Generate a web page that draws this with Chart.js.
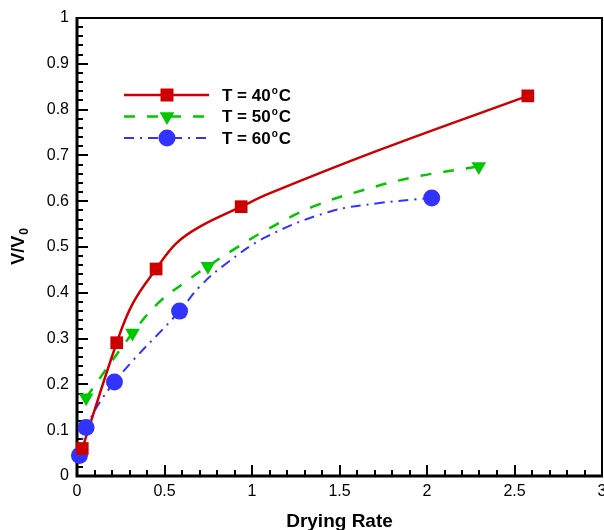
<!DOCTYPE html>
<html>
<head>
<meta charset="utf-8">
<script src="https://cdn.jsdelivr.net/npm/chart.js@4.4.1/dist/chart.umd.min.js"></script>
<style>
  body { margin: 0; background: #fff; }
  #wrap { width: 604px; height: 530px; }
</style>
</head>
<body>
<div id="wrap"><canvas id="chart" width="604" height="530"></canvas></div>
<script>
const x40 = [0.03, 0.227, 0.452, 0.938, 2.576];
const y40 = [0.06, 0.291, 0.452, 0.588, 0.830];
const x50 = [0.052, 0.317, 0.748, 2.296];
const y50 = [0.171, 0.312, 0.458, 0.676];
const x60 = [0.014, 0.052, 0.214, 0.586, 2.027];
const y60 = [0.045, 0.106, 0.205, 0.360, 0.607];

// fitted curves
const fitX40 = [0.03, 0.227, 0.319, 0.452, 0.567, 0.7, 0.938, 1.1, 1.729, 2.576];
const fitY40 = [0.06, 0.291, 0.377, 0.452, 0.508, 0.544, 0.588, 0.617, 0.712, 0.830];
const fitX50 = [0.052, 0.317, 0.471, 0.624, 0.748, 0.91, 1.081, 1.348, 1.633, 1.919, 2.296];
const fitY50 = [0.171, 0.312, 0.380, 0.425, 0.458, 0.498, 0.537, 0.588, 0.624, 0.652, 0.676];
const fitX60 = [0.014, 0.052, 0.214, 0.586, 0.7, 0.853, 1.081, 1.443, 1.729, 1.938, 2.027];
const fitY60 = [0.045, 0.106, 0.205, 0.360, 0.413, 0.464, 0.522, 0.577, 0.596, 0.604, 0.607];

const labels = ['T = 40', 'T = 50', 'T = 60'];

const RED = '#cc0000', GREEN = '#00c800', BLUE = '#3333ff';
const FONT = "'Liberation Sans', Arial, sans-serif";
const DASH50 = [11, 12], DASH60 = [10, 6, 2, 6];

const pts = (xs, ys) => xs.map((x, i) => ({ x: x, y: ys[i] }));
const fmt = v => String(+(+v).toFixed(2));

// box, inward ticks, axis titles and legend
const decor = {
  id: 'decor',
  beforeDatasetsDraw(chart) {
    const ctx = chart.ctx, a = chart.chartArea;
    const xs = chart.scales.x, ys = chart.scales.y;
    ctx.save();
    ctx.strokeStyle = '#000';
    // top and right
    ctx.lineWidth = 2;
    ctx.beginPath();
    ctx.moveTo(a.left, a.top); ctx.lineTo(a.right, a.top); ctx.lineTo(a.right, a.bottom);
    ctx.stroke();
    // ticks
    ctx.lineWidth = 2;
    for (let i = 0; i <= 50; i++) {
      const v = i / 50, py = Math.round(ys.getPixelForValue(v));
      const len = i % 5 === 0 ? 11 : 6;
      ctx.beginPath(); ctx.moveTo(a.left, py); ctx.lineTo(a.left + len, py); ctx.stroke();
    }
    for (let i = 0; i <= 30; i++) {
      const v = i / 10, px = Math.round(xs.getPixelForValue(v));
      const len = i % 5 === 0 ? 11 : 6;
      ctx.beginPath(); ctx.moveTo(px, a.bottom); ctx.lineTo(px, a.bottom - len); ctx.stroke();
    }
    // left and bottom axes
    ctx.lineWidth = 3;
    ctx.beginPath();
    ctx.moveTo(a.left, a.top - 1); ctx.lineTo(a.left, a.bottom); ctx.lineTo(a.right + 1, a.bottom);
    ctx.stroke();
    ctx.restore();
  },
  afterDraw(chart) {
    const ctx = chart.ctx, a = chart.chartArea;
    ctx.save();
    ctx.fillStyle = '#000';
    // x title
    ctx.font = 'bold 19px ' + FONT;
    ctx.textAlign = 'center';
    ctx.textBaseline = 'alphabetic';
    ctx.fillText('Drying Rate', (a.left + a.right) / 2, 527);
    // y title with subscript
    ctx.translate(24, (a.top + a.bottom) / 2);
    ctx.rotate(-Math.PI / 2);
    ctx.font = 'bold 18px ' + FONT;
    const w1 = ctx.measureText('V/V').width;
    ctx.font = 'bold 12px ' + FONT;
    const w2 = ctx.measureText('0').width;
    const x0 = -(w1 + w2) / 2;
    ctx.textAlign = 'left';
    ctx.font = 'bold 18px ' + FONT;
    ctx.fillText('V/V', x0, 0);
    ctx.font = 'bold 12px ' + FONT;
    ctx.fillText('0', x0 + w1 + 1, 4);
    ctx.restore();

    // legend
    const rows = [
      { c: RED, dash: [], w: 2.5, shape: 'rect' },
      { c: GREEN, dash: DASH50, w: 2.5, shape: 'tri' },
      { c: BLUE, dash: DASH60, w: 2, shape: 'circle' }
    ];
    ctx.save();
    rows.forEach((r, i) => {
      const y = 95 + i * 21.5;
      ctx.strokeStyle = r.c; ctx.fillStyle = r.c;
      ctx.lineWidth = r.w;
      ctx.setLineDash(r.dash);
      ctx.beginPath(); ctx.moveTo(124, y); ctx.lineTo(209, y); ctx.stroke();
      ctx.setLineDash([]);
      const cx = 167;
      ctx.beginPath();
      if (r.shape === 'rect') ctx.rect(cx - 6.5, y - 6.5, 13, 13);
      else if (r.shape === 'tri') {
        const rr = 8.5;
        ctx.moveTo(cx, y + rr);
        ctx.lineTo(cx - rr * 0.866, y - rr / 2);
        ctx.lineTo(cx + rr * 0.866, y - rr / 2);
        ctx.closePath();
      } else ctx.arc(cx, y, 8.5, 0, Math.PI * 2);
      ctx.fill();
      // text
      ctx.fillStyle = '#000';
      ctx.font = 'bold 17px ' + FONT;
      ctx.textBaseline = 'middle';
      ctx.textAlign = 'left';
      const t = labels[i];
      ctx.fillText(t, 222, y + 1);
      const tw = ctx.measureText(t).width;
      ctx.font = 'bold 10px ' + FONT;
      ctx.fillText('o', 222 + tw + 1, y - 4);
      const ow = ctx.measureText('o').width;
      ctx.font = 'bold 17px ' + FONT;
      ctx.fillText('C', 222 + tw + ow + 2, y + 1);
    });
    ctx.restore();
  }
};

const marker = (d, c, style, r, extra) => Object.assign({
  data: d, showLine: false, backgroundColor: c, borderColor: c, borderWidth: 0,
  pointStyle: style, pointRadius: r, pointHoverRadius: r, clip: false
}, extra || {});

const curve = (d, c, w, dash) => ({
  data: d, showLine: true, borderColor: c, borderWidth: w, borderDash: dash,
  pointRadius: 0, pointHoverRadius: 0, tension: 0.4, clip: false
});

const data = {
  datasets: [
    marker(pts(x40, y40), RED, 'rect', 9),
    marker(pts(x50, y50), GREEN, 'triangle', 8.5, { rotation: 180 }),
    marker(pts(x60, y60), BLUE, 'circle', 8.5),
    curve(pts(fitX40, fitY40), RED, 2.5, []),
    curve(pts(fitX50, fitY50), GREEN, 2.5, DASH50),
    curve(pts(fitX60, fitY60), BLUE, 2, DASH60)
  ]
};

new Chart(document.getElementById('chart'), {
  type: 'scatter',
  data: data,
  plugins: [decor],
  options: {
    responsive: false,
    animation: false,
    layout: { autoPadding: false, padding: { top: 18, right: 2, left: 0, bottom: 0 } },
    plugins: { legend: { display: false }, tooltip: { enabled: false } },
    scales: {
      x: {
        type: 'linear', min: 0, max: 3,
        grid: { display: false, drawTicks: false },
        border: { display: false },
        ticks: { stepSize: 0.5, color: '#000', padding: 6, maxRotation: 0, callback: fmt, font: { family: FONT, size: 16 } },
        afterFit: s => { s.height = 54; s.paddingLeft = 0; s.paddingRight = 0; }
      },
      y: {
        type: 'linear', min: 0, max: 1,
        grid: { display: false, drawTicks: false },
        border: { display: false },
        ticks: { stepSize: 0.1, color: '#000', padding: 8, callback: fmt, font: { family: FONT, size: 16 } },
        afterFit: s => { s.width = 77; s.paddingTop = 0; s.paddingBottom = 0; }
      }
    }
  }
});
</script>
</body>
</html>
